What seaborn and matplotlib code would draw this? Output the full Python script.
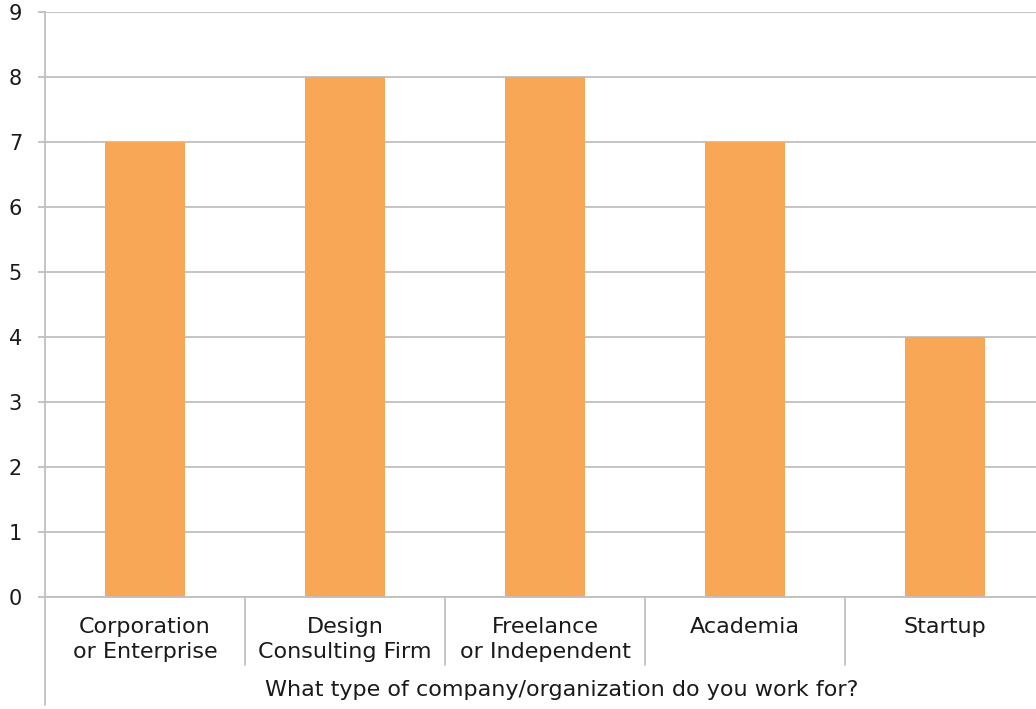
import matplotlib
matplotlib.use("Agg")
import matplotlib.pyplot as plt
import matplotlib.transforms as mtransforms
import seaborn as sns
import pandas as pd

categories = ["Corporation\nor Enterprise", "Design\nConsulting Firm", "Freelance\nor Independent", "Academia", "Startup"]
counts = [7, 8, 8, 7, 4]
yticks = list(range(0, 10))
xlabel = "What type of company/organization do you work for?"

sns.set_theme(style="white")
plt.rcParams['font.family'] = ['DejaVu Sans']

W, H = 1036, 709
fig = plt.figure(figsize=(W / 100, H / 100), dpi=100)
ax = fig.add_axes([45 / W, (H - 597) / H, 1000 / W, 585 / H])

df = pd.DataFrame({"cat": categories, "n": counts})
sns.barplot(data=df, x="cat", y="n", color="#F7A755", saturation=1, width=0.4,
            linewidth=0, ax=ax)

grid_c = "#BFBFBF"
txt_c = "#1a1a1a"
ax.set_ylim(0, 9)
ax.set_xlim(-0.5, len(categories) - 0.5)
ax.set_yticks(yticks)
ax.set_yticklabels([str(v) for v in yticks], fontsize=15, color=txt_c)
ax.yaxis.grid(True, color=grid_c, linewidth=1.3)
ax.set_axisbelow(True)
ax.tick_params(axis="y", length=5, width=1.3, color=grid_c, pad=11.5, left=True)
ax.tick_params(axis="x", length=0, pad=14.5, labelsize=16, labelcolor=txt_c)
for lbl in ax.get_xticklabels():
    lbl.set_linespacing(1.3)
for s in ["top", "right"]:
    ax.spines[s].set_visible(False)
ax.spines["bottom"].set_color(grid_c)
ax.spines["bottom"].set_linewidth(1.3)
ax.spines["left"].set_color(grid_c)
ax.spines["left"].set_linewidth(1.3)
ax.set_xlabel("")
ax.set_ylabel("")

# multi-level axis decorations
trans = mtransforms.blended_transform_factory(ax.transData, ax.transAxes)
sep_bottom = -(665 - 597) / 585
for i in range(len(categories)):
    x = i + 0.5
    ax.plot([x, x], [0, sep_bottom], transform=trans, color=grid_c, lw=1.3, clip_on=False)
ax.plot([0, 0], [0, -(705 - 597) / 585], transform=ax.transAxes, color=grid_c, lw=1.3, clip_on=False)
ax.text(2.0 + 0.085, -(690 - 597) / 585, xlabel, transform=trans, ha="center", va="center",
        fontsize=16, color=txt_c)

fig.savefig("out.png", dpi=100, facecolor="white")
